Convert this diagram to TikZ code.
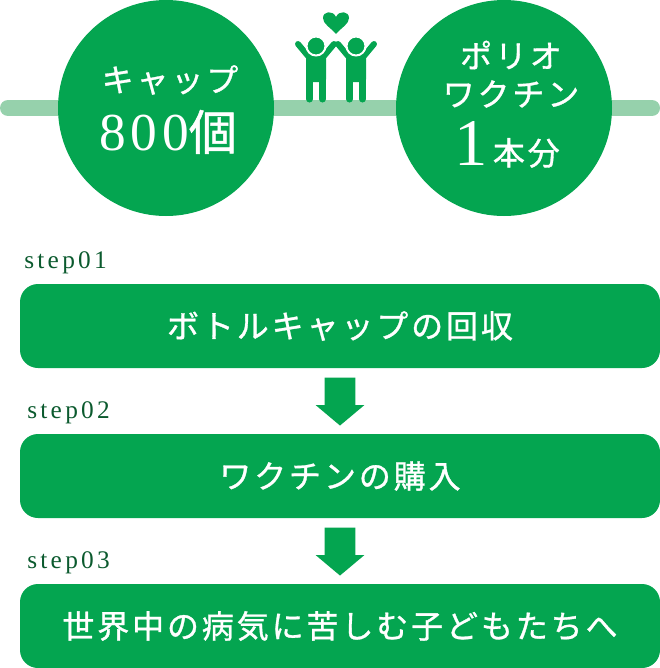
\documentclass[tikz,border=0pt]{standalone}
\usepackage{fontspec}
\setmainfont{Liberation Serif}
\newfontfamily\jpfont{Noto Sans CJK JP}[LetterSpace=9,FakeBold=1]
\newfontfamily\numfont{Liberation Serif}[LetterSpace=9]
\newfontfamily\stepfont{Liberation Serif}[LetterSpace=13]
\usetikzlibrary{positioning,shapes.arrows}
\definecolor{capgreen}{HTML}{04A550}
\definecolor{barGreen}{HTML}{96D1AC}
\definecolor{darkgreen}{HTML}{0B5A2E}
\tikzset{
  px/.style={x=0.75pt,y=-0.75pt},
  bigcircle/.style={circle,fill=capgreen,minimum size=162pt,inner sep=0pt},
  circletext/.style={text=white,inner sep=0pt,font=\jpfont\fontsize{24pt}{24pt}\selectfont},
  stepbox/.style={rounded corners=13.5pt,fill=capgreen,text=white,minimum width=480pt,minimum height=63pt,inner sep=0pt,font=\jpfont\fontsize{24pt}{24pt}\selectfont},
  steplabel/.style={text=darkgreen,inner sep=0pt,anchor=base west,font=\stepfont\fontsize{19pt}{19pt}\selectfont},
  downarrow/.style={single arrow,shape border rotate=270,fill=capgreen,inner xsep=11.25pt,inner ysep=0pt,minimum width=36pt,minimum height=36pt,single arrow head extend=6.75pt,single arrow tip angle=100,anchor=tail},
  limb/.style={draw=capgreen,line cap=round,line width=4.5pt},
  leg/.style={draw=capgreen,line cap=round,line width=5.25pt}
}
\begin{document}
\begin{tikzpicture}[px]
\useasboundingbox (0,0) rectangle (660,668);
% top bar
\draw[barGreen,line width=12pt,line cap=round] (8,108) -- (652,108);
\node[bigcircle] (cap) at (166,108) {};
\node[bigcircle] (polio) at (504,108) {};
\node[circletext] (captext) at (170,80) {キャップ};
\node[circletext,anchor=base] (capnum) at (168,150) {\numfont\fontsize{40pt}{40pt}\selectfont 800\jpfont\fontsize{36pt}{36pt}\selectfont 個};
\node[circletext] (poliotext) at (511,55) {ポリオ};
\node[circletext] (wakuchin) at (511,94) {ワクチン};
\node[circletext,anchor=base] (dose) at (507,165) {\numfont\fontsize{50pt}{50pt}\selectfont 1\jpfont\fontsize{24pt}{24pt}\selectfont\,本分};
% people
\fill[capgreen] (336,34) .. controls (330,27) and (323,24) .. (323,18) .. controls (323,11) and (333,10) .. (336,17) .. controls (339,10) and (349,11) .. (349,18) .. controls (349,24) and (342,27) .. (336,34) -- cycle;
\foreach \cx in {316,356}{
  \draw[limb] (\cx-18,44) -- (\cx-8,56);
  \draw[limb] (\cx+18,44) -- (\cx+8,56);
  \fill[capgreen,rounded corners=2pt] (\cx-10,53) rectangle (\cx+10,82);
  \draw[leg] (\cx-6.5,75) -- (\cx-6.5,99);
  \draw[leg] (\cx+6.5,75) -- (\cx+6.5,99);
  \fill[capgreen,draw=white,line width=1.5pt] (\cx,46) circle (9.5);
}
% steps
\node[steplabel] (step1) at (24,268) {step01};
\node[stepbox] (box1) at (340,326) {ボトルキャップの回収};
\node[downarrow] (arrow1) at ([yshift=-6.75pt]box1.south) {};
\node[steplabel] (step2) at (27,418) {step02};
\node[stepbox] (box2) at (340,476) {ワクチンの購入};
\node[downarrow] (arrow2) at ([yshift=-6.75pt]box2.south) {};
\node[steplabel] (step3) at (27,568) {step03};
\node[stepbox] (box3) at (340,626) {世界中の病気に苦しむ子どもたちへ};
\end{tikzpicture}
\end{document}
